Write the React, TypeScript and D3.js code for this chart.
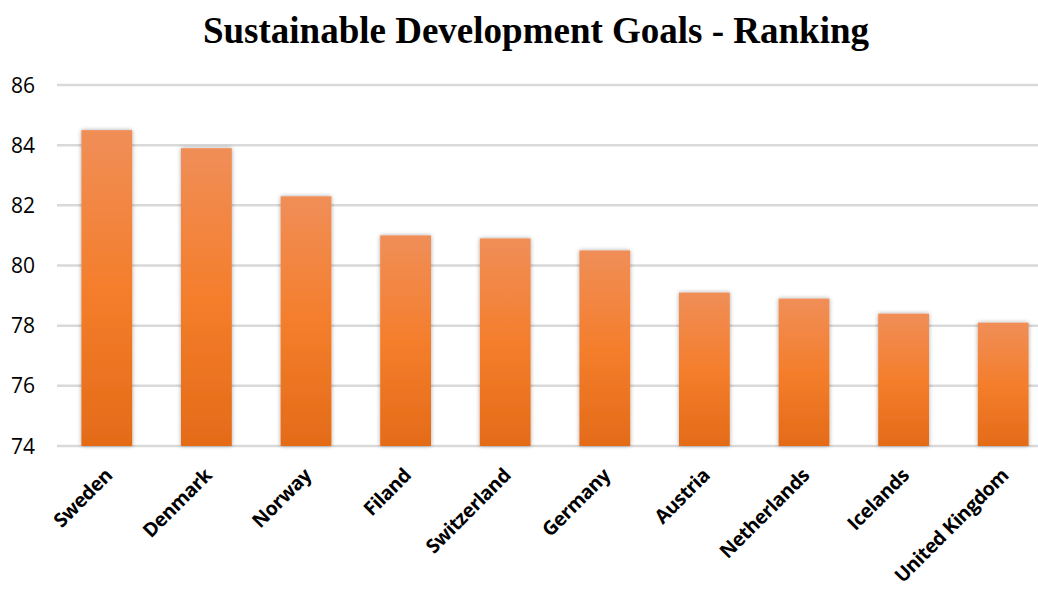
import React from "react";
import * as d3 from "d3";

const countries = ["Sweden", "Denmark", "Norway", "Filand", "Switzerland", "Germany", "Austria", "Netherlands", "Icelands", "United Kingdom"];
const scores = [84.5, 83.9, 82.3, 81.0, 80.9, 80.5, 79.1, 78.9, 78.4, 78.1];
const yTicks = [74, 76, 78, 80, 82, 84, 86];
const title = "Sustainable Development Goals - Ranking";

const W = 1038;
const H = 590;

export default function App() {
  const x = d3.scaleBand<string>().domain(countries).range([57, 1053]).paddingInner(0.49).paddingOuter(0.245);
  const y = d3.scaleLinear().domain([74, 86]).range([446, 85]);

  return (
    <svg width={W} height={H} style={{ position: "absolute", left: 0, top: 0, background: "#fff" }}>
      <defs>
        <linearGradient id="barGrad" x1="0" y1="0" x2="0" y2="1">
          <stop offset="0" stopColor="#F08E58" />
          <stop offset="0.5" stopColor="#F47E2C" />
          <stop offset="1" stopColor="#E46B18" />
        </linearGradient>
        <filter id="shadow" x="-30%" y="-10%" width="160%" height="120%">
          <feDropShadow dx="0" dy="0" stdDeviation="2.2" floodColor="#000" floodOpacity="0.35" />
        </filter>
      </defs>
      <rect x={0} y={0} width={W} height={H} fill="#fff" />
      <text x={536} y={43} textAnchor="middle" fontFamily="'Liberation Serif', serif" fontWeight="bold" fontSize={37} fill="#000">
        {title}
      </text>
      {yTicks.map((t) => (
        <g key={t}>
          <line x1={57} x2={W} y1={y(t)} y2={y(t)} stroke="#d9d9d9" strokeWidth={2.5} />
          <text x={35} y={y(t)} dy="0.36em" textAnchor="end" fontFamily="'Open Sans', sans-serif" fontSize={21} fill="#000">
            {t}
          </text>
        </g>
      ))}
      {countries.map((c, i) => (
        <rect
          key={c}
          x={x(c)}
          y={y(scores[i])}
          width={x.bandwidth()}
          height={y(74) - y(scores[i])}
          fill="url(#barGrad)"
          filter="url(#shadow)"
        />
      ))}
      {countries.map((c) => {
        const cx = (x(c) as number) + x.bandwidth() / 2 - 3;
        const cy = 467;
        return (
          <text
            key={c}
            transform={`translate(${cx},${cy}) rotate(-45)`}
            textAnchor="end"
            dy="0.7em"
            fontFamily="'Open Sans', sans-serif"
            fontWeight="bold"
            fontSize={19.5}
            letterSpacing={-0.4}
            fill="#000"
          >
            {c}
          </text>
        );
      })}
    </svg>
  );
}
